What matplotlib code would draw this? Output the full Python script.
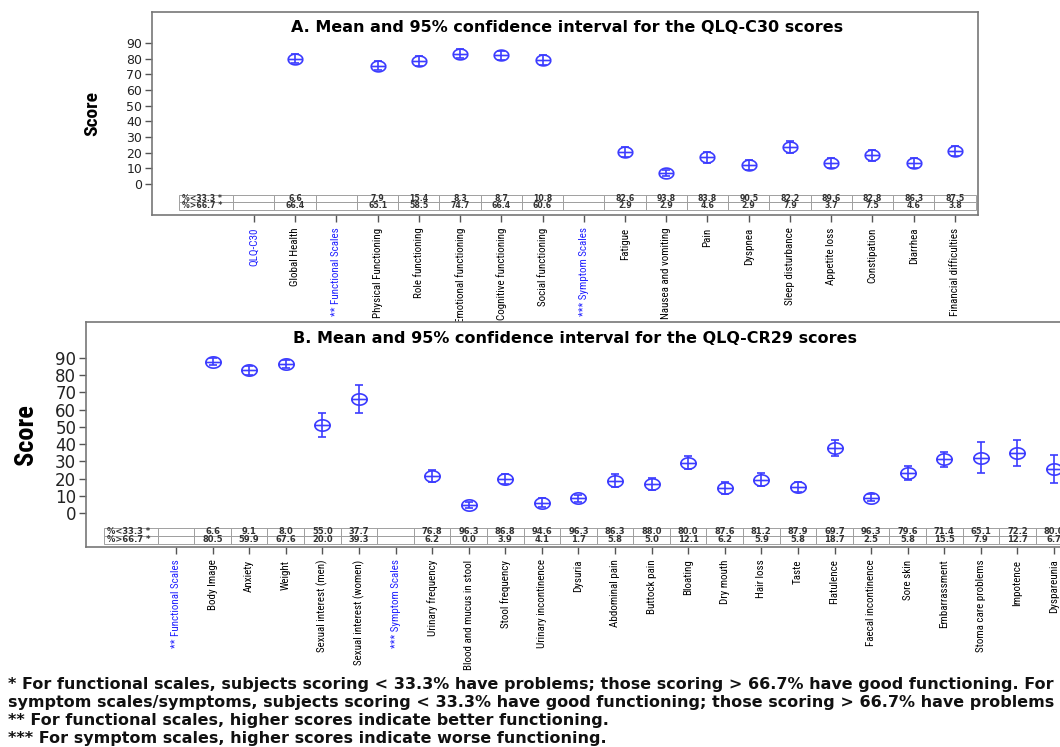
import numpy as np
import matplotlib
matplotlib.use("Agg")
import matplotlib.pyplot as plt
from matplotlib.path import Path
from matplotlib.patches import Rectangle
from matplotlib import font_manager as fm

nan = np.nan

# ---------------- Panel A data ----------------
catsA = ["QLQ-C30", "Global Health", "** Functional Scales", "Physical Functioning",
         "Role functioning", "Emotional functioning", "Cognitive functioning",
         "Social functioning", "*** Symptom Scales", "Fatigue", "Nausea and vomiting",
         "Pain", "Dyspnea", "Sleep disturbance", "Appetite loss", "Constipation",
         "Diarrhea", "Financial difficulties"]
meanA = [nan, 80.0, nan, 75.5, 78.5, 83.2, 82.1, 79.1, nan,
         20.5, 7.2, 17.0, 12.1, 23.5, 13.4, 18.3, 13.6, 20.9]
ciA = [nan, 2.9, nan, 3.0, 3.0, 3.0, 3.0, 3.0, nan,
       3.0, 2.0, 3.5, 3.0, 4.0, 3.0, 3.5, 3.3, 3.3]
lowA = ["", "6.6", "", "7.9", "15.4", "8.3", "8.7", "10.8", "",
        "82.6", "93.8", "83.8", "90.5", "82.2", "89.6", "82.8", "86.3", "87.5"]
highA = ["", "66.4", "", "65.1", "58.5", "74.7", "66.4", "60.6", "",
         "2.9", "2.9", "4.6", "2.9", "7.9", "3.7", "7.5", "4.6", "3.8"]

# ---------------- Panel B data ----------------
catsB = ["** Functional Scales", "Body Image", "Anxiety", "Weight",
         "Sexual interest (men)", "Sexual interest (women)", "*** Symptom Scales",
         "Urinary frequency", "Blood and mucus in stool", "Stool frequency",
         "Urinary incontinence", "Dysuria", "Abdominal pain", "Buttock pain",
         "Bloating", "Dry mouth", "Hair loss", "Taste", "Flatulence",
         "Faecal incontinence", "Sore skin", "Embarrassment", "Stoma care problems",
         "Impotence", "Dyspareunia"]
meanB = [nan, 87.9, 82.8, 86.7, 51.2, 66.2, nan, 21.4, 4.7, 19.6, 6.0, 8.5,
         18.8, 16.9, 29.3, 14.4, 19.4, 15.3, 37.9, 8.9, 23.3, 31.1, 32.2, 34.8, 25.6]
ciB = [nan, 2.0, 2.5, 2.3, 6.9, 8.0, nan, 3.6, 1.8, 3.0, 2.5, 2.0,
       3.6, 3.5, 4.0, 3.5, 3.8, 3.0, 4.5, 2.0, 4.0, 4.5, 9.0, 7.5, 8.3]
lowB = ["", "6.6", "9.1", "8.0", "55.0", "37.7", "", "76.8", "96.3", "86.8", "94.6",
        "96.3", "86.3", "88.0", "80.0", "87.6", "81.2", "87.9", "69.7", "96.3",
        "79.6", "71.4", "65.1", "72.2", "80.0"]
highB = ["", "80.5", "59.9", "67.6", "20.0", "39.3", "", "6.2", "0.0", "3.9", "4.1",
         "1.7", "5.8", "5.0", "12.1", "6.2", "5.9", "5.8", "18.7", "2.5", "5.8",
         "15.5", "7.9", "12.7", "6.7"]

row_labels = ["%<33.3 *", "%>66.7 *"]
yticks = [0, 10, 20, 30, 40, 50, 60, 70, 80, 90]

titleA = "A. Mean and 95% confidence interval for the QLQ-C30 scores"
titleB = "B. Mean and 95% confidence interval for the QLQ-CR29 scores"
footnotes = [
    "* For functional scales, subjects scoring < 33.3% have problems; those scoring > 66.7% have good functioning. For",
    "symptom scales/symptoms, subjects scoring < 33.3% have good functioning; those scoring > 66.7% have problems",
    "** For functional scales, higher scores indicate better functioning.",
    "*** For symptom scales, higher scores indicate worse functioning.",
]

BLUE = "#3c3cff"
HEAD_BLUE = "#2020ff"

# ---- pick a narrow font family if one is installed ----
_entries = fm.fontManager.ttflist
_names = {f.name for f in _entries}

NARROW, STRETCH = ["Liberation Sans"], "normal"
_found = False
for n in ["Liberation Sans Narrow", "Roboto Condensed", "Arial Narrow"]:
    if n in _names:
        NARROW, STRETCH = [n], "normal"
        _found = True
        break
if not _found:
    for fam in ["Noto Sans", "Open Sans", "Roboto", "DejaVu Sans"]:
        sts = {str(f.stretch) for f in _entries if f.name == fam}
        for pref in ["extra-condensed", "condensed", "semi-condensed"]:
            if pref in sts:
                NARROW, STRETCH = [fam], pref
                _found = True
                break
        if _found:
            break

FOOT_FAM = ["DejaVu Sans"]

# custom marker: ellipse with horizontal bar
th = np.linspace(0, 2 * np.pi, 41)
verts = [(1.35 * np.cos(t), np.sin(t)) for t in th]
codes = [Path.MOVETO] + [Path.LINETO] * (len(th) - 1)
verts += [(-1.35, 0), (1.35, 0)]
codes += [Path.MOVETO, Path.LINETO]
MARK = Path(verts, codes)

W, H = 1060, 747
fig = plt.figure(figsize=(W / 100, H / 100), dpi=100)
renderer = fig.canvas.get_renderer()


def fit_size(text, target_px, **kw):
    t = fig.text(0, 0, text, fontsize=10, **kw)
    w = t.get_window_extent(renderer).width
    t.remove()
    return 10 * target_px / w


def px_axes(left, top, right, bottom):
    return fig.add_axes([left / W, 1 - bottom / H, (right - left) / W, (bottom - top) / H])


def panel(ax, cats, means, cis, low, high, xlim, ylim, title, tick_fs, cat_fs,
          table_rows, label_x0, cell_fs, msize, title_xy):
    x = np.arange(len(cats))
    ax.set_xlim(*xlim)
    ax.set_ylim(*ylim)
    ax.errorbar(x, means, yerr=cis, fmt="none", ecolor=BLUE, elinewidth=1.2,
                capsize=3, capthick=1.2, zorder=3)
    ax.plot(x, means, linestyle="none", marker=MARK, markersize=msize,
            mfc="none", mec=BLUE, mew=1.2, zorder=4)
    ax.set_yticks(yticks)
    ax.set_yticklabels([str(v) for v in yticks], fontsize=tick_fs, color="#222222")
    ax.tick_params(axis="y", direction="out", length=5, width=1, color="#555555", pad=2)
    ax.set_xticks(x)
    ax.set_xticklabels(cats, rotation=90, fontsize=cat_fs, family=NARROW,
                       fontstretch=STRETCH, va="top")
    ax.tick_params(axis="x", direction="out", length=5, width=1, color="#555555", pad=4)
    for lab in ax.get_xticklabels():
        t = lab.get_text()
        if t.startswith("*") or t.startswith("QLQ"):
            lab.set_color(HEAD_BLUE)
    for s in ax.spines.values():
        s.set_color("#777777")
        s.set_linewidth(1.2)
    ax.text(title_xy[0], title_xy[1], title, ha="center", va="center",
            fontsize=11.5, fontweight="bold", transform=ax.transData)
    for (yt, yb), lab, vals in zip(table_rows, row_labels, [low, high]):
        ax.add_patch(Rectangle((label_x0, yb), -0.5 - label_x0, yt - yb, fill=False,
                               ec="#a0a0a0", lw=0.7, zorder=2))
        ax.text(label_x0 + 0.08, (yt + yb) / 2, lab, ha="left", va="center",
                fontsize=cell_fs, fontweight="bold", color="#333333")
        for i, v in enumerate(vals):
            ax.add_patch(Rectangle((i - 0.5, yb), 1, yt - yb, fill=False,
                                   ec="#a0a0a0", lw=0.7, zorder=2))
            if v:
                ax.text(i, (yt + yb) / 2, v, ha="center", va="center",
                        fontsize=cell_fs, fontweight="bold", color="#333333")


catA_fs = min(11, fit_size("Financial difficulties", 88, family=NARROW, fontstretch=STRETCH))
catB_fs = min(13.5, fit_size("Blood and mucus in stool", 110, family=NARROW, fontstretch=STRETCH))

# Panel A
axA = px_axes(152, 12, 978, 215)
panel(axA, catsA, meanA, ciA, lowA, highA, (-2.47, 17.56), (-19.8, 109.8), titleA,
      9, catA_fs, [(-7.0, -11.6), (-11.6, -16.4)], -1.82, 5.6, 10.5, (7.6, 100.0))
axA.set_ylabel("Score", fontsize=14, fontweight="bold", family=NARROW,
               fontstretch=STRETCH, labelpad=18)

# Panel B
axB = px_axes(86, 322, 1076, 547)
panel(axB, catsB, meanB, ciB, lowB, highB, (-2.46, 24.6), (-19.7, 110.9), titleB,
      12, catB_fs, [(-8.6, -13.3), (-13.3, -17.8)], -1.97, 6.0, 11, (10.9, 101.5))
axB.set_ylabel("Score", fontsize=19, fontweight="bold", family=NARROW,
               fontstretch=STRETCH, labelpad=12)

# footnotes
foot_fs = fit_size(footnotes[0], 1047, family=FOOT_FAM, fontweight="bold")
for k, line in enumerate(footnotes):
    fig.text(8 / W, 1 - (684 + 18.3 * k) / H, line, ha="left", va="center",
             fontsize=foot_fs, fontweight="bold", family=FOOT_FAM,
             color="#111111")

fig.savefig("out.png", dpi=100)
